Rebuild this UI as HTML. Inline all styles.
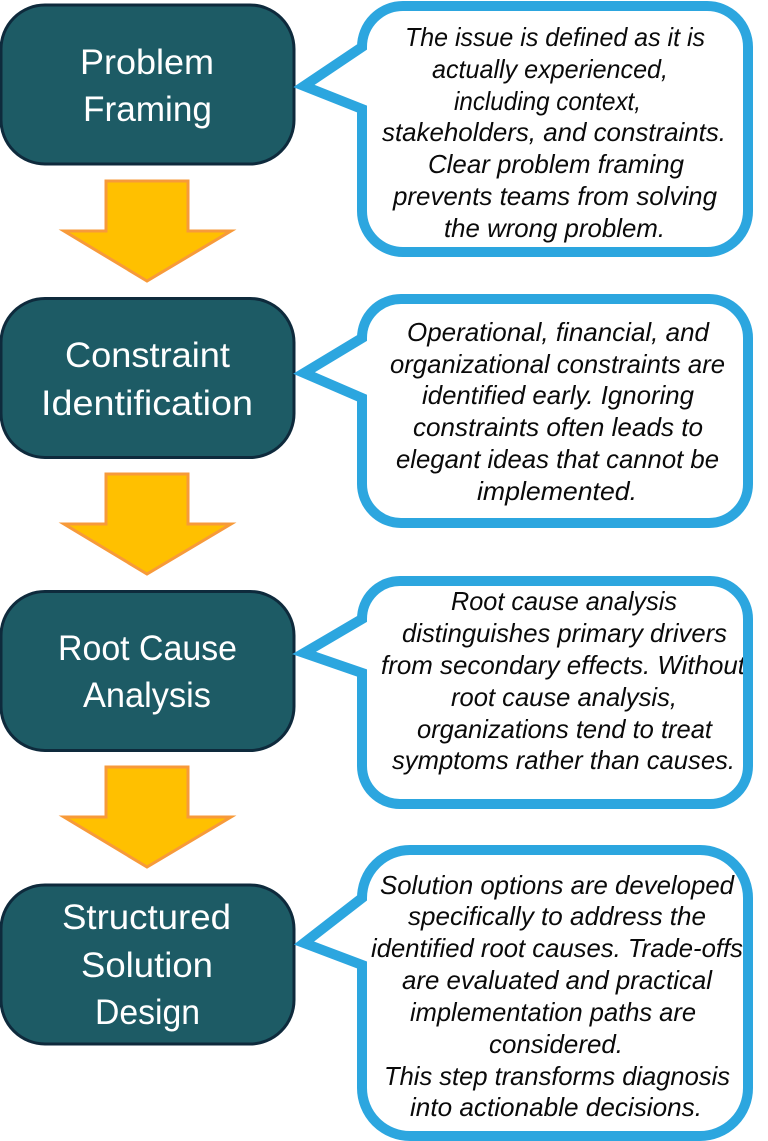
<!DOCTYPE html>
<html>
<head>
<meta charset="utf-8">
<style>
html,body{margin:0;padding:0;background:#fff}
svg{display:block}
.t{font-family:"Liberation Sans",sans-serif;font-size:35px;fill:#fff}
.c{font-family:"Liberation Sans",sans-serif;font-style:italic;font-size:26px;fill:#0a0a0a}
.b{fill:#1D5B65;stroke:#0E2A3C;stroke-width:3}
.a{fill:#FFC000;stroke:#F79A3A;stroke-width:3;stroke-linejoin:miter}
.p{fill:#fff;stroke:#2CA6DF;stroke-width:10;stroke-miterlimit:10}
.o{fill:none;stroke:#2CA6DF;stroke-width:10;stroke-miterlimit:10}
</style>
</head>
<body>
<svg width="768" height="1141" viewBox="0 0 768 1141" xmlns="http://www.w3.org/2000/svg">
<rect width="768" height="1141" fill="#fff"/>

<!-- arrows -->
<polygon class="a" points="106,181 188,181 188,231 231,231 147,281 64,231 106,231"/>
<polygon class="a" points="106,474 188,474 188,524 231,524 147,574 64,524 106,524"/>
<polygon class="a" points="106,767 188,767 188,817 231,817 147,867 64,817 106,817"/>

<!-- left boxes -->
<rect class="b" x="1" y="5" width="293" height="159" rx="44"/>
<rect class="b" x="1" y="298.500" width="293" height="159" rx="44"/>
<rect class="b" x="1" y="591.500" width="293" height="159" rx="44"/>
<rect class="b" x="1" y="885" width="293" height="159" rx="44"/>

<text class="t" x="80" y="74" textLength="134" lengthAdjust="spacingAndGlyphs">Problem</text>
<text class="t" x="83" y="121" textLength="129" lengthAdjust="spacingAndGlyphs">Framing</text>
<text class="t" x="65" y="367" textLength="165" lengthAdjust="spacingAndGlyphs">Constraint</text>
<text class="t" x="41" y="415" textLength="212" lengthAdjust="spacingAndGlyphs">Identification</text>
<text class="t" x="58" y="660" textLength="179" lengthAdjust="spacingAndGlyphs">Root Cause</text>
<text class="t" x="83" y="707" textLength="128" lengthAdjust="spacingAndGlyphs">Analysis</text>
<text class="t" x="62" y="929" textLength="169" lengthAdjust="spacingAndGlyphs">Structured</text>
<text class="t" x="81" y="977" textLength="132" lengthAdjust="spacingAndGlyphs">Solution</text>
<text class="t" x="95" y="1024" textLength="105" lengthAdjust="spacingAndGlyphs">Design</text>

<!-- callouts -->
<path class="p" d="M362,47 A41,41 0 0 1 403,6 L707,6 A41,41 0 0 1 748,47 L748,211 A41,41 0 0 1 707,252 L403,252 A41,41 0 0 1 362,211 L362,109 L304,86 Z"/>
<path class="p" d="M362,338 A39,39 0 0 1 401,299 L709,299 A39,39 0 0 1 748,338 L748,484 A39,39 0 0 1 709,523 L401,523 A39,39 0 0 1 362,484 L362,398 L304,373 Z"/>
<path class="p" d="M362,619 A38,38 0 0 1 400,581 L710,581 A38,38 0 0 1 748,619 L748,766 A38,38 0 0 1 710,804 L400,804 A38,38 0 0 1 362,766 L362,673 L304,653 Z"/>
<path class="p" d="M362,898 A48,48 0 0 1 410,850 L700,850 A48,48 0 0 1 748,898 L748,1088 A48,48 0 0 1 700,1136 L410,1136 A48,48 0 0 1 362,1088 L362,965 L304,943 Z"/>

<!-- callout text -->
<text class="c" x="405" y="46" textLength="300" lengthAdjust="spacingAndGlyphs">The issue is defined as it is</text>
<text class="c" x="432" y="78" textLength="236" lengthAdjust="spacingAndGlyphs">actually experienced,</text>
<text class="c" x="454" y="110" textLength="187" lengthAdjust="spacingAndGlyphs">including context,</text>
<text class="c" x="382" y="141" textLength="344" lengthAdjust="spacingAndGlyphs">stakeholders, and constraints.</text>
<text class="c" x="428" y="173" textLength="256" lengthAdjust="spacingAndGlyphs">Clear problem framing</text>
<text class="c" x="393" y="205" textLength="324" lengthAdjust="spacingAndGlyphs">prevents teams from solving</text>
<text class="c" x="444" y="237" textLength="221" lengthAdjust="spacingAndGlyphs">the wrong problem.</text>

<text class="c" x="407" y="341" textLength="302" lengthAdjust="spacingAndGlyphs">Operational, financial, and</text>
<text class="c" x="390" y="373" textLength="335" lengthAdjust="spacingAndGlyphs">organizational constraints are</text>
<text class="c" x="422" y="404" textLength="272" lengthAdjust="spacingAndGlyphs">identified early. Ignoring</text>
<text class="c" x="413" y="436" textLength="290" lengthAdjust="spacingAndGlyphs">constraints often leads to</text>
<text class="c" x="396" y="468" textLength="323" lengthAdjust="spacingAndGlyphs">elegant ideas that cannot be</text>
<text class="c" x="477" y="500" textLength="160" lengthAdjust="spacingAndGlyphs">implemented.</text>

<text class="c" x="451" y="610" textLength="226" lengthAdjust="spacingAndGlyphs">Root cause analysis</text>
<text class="c" x="402" y="642" textLength="325" lengthAdjust="spacingAndGlyphs">distinguishes primary drivers</text>
<text class="c" x="381" y="674" textLength="364" lengthAdjust="spacingAndGlyphs">from secondary effects. Without</text>
<text class="c" x="451" y="706" textLength="226" lengthAdjust="spacingAndGlyphs">root cause analysis,</text>
<text class="c" x="417" y="738" textLength="295" lengthAdjust="spacingAndGlyphs">organizations tend to treat</text>
<text class="c" x="392" y="769" textLength="343" lengthAdjust="spacingAndGlyphs">symptoms rather than causes.</text>
<!-- border redrawn above the text: "Without" runs under it in the reference -->
<path class="o" d="M748,619 L748,766"/>

<text class="c" x="380" y="894" textLength="354" lengthAdjust="spacingAndGlyphs">Solution options are developed</text>
<text class="c" x="408" y="925" textLength="298" lengthAdjust="spacingAndGlyphs">specifically to address the</text>
<text class="c" x="371" y="957" textLength="372" lengthAdjust="spacingAndGlyphs">identified root causes. Trade-offs</text>
<text class="c" x="402" y="989" textLength="310" lengthAdjust="spacingAndGlyphs">are evaluated and practical</text>
<text class="c" x="410" y="1021" textLength="286" lengthAdjust="spacingAndGlyphs">implementation paths are</text>
<text class="c" x="489" y="1053" textLength="134" lengthAdjust="spacingAndGlyphs">considered.</text>
<text class="c" x="384" y="1085" textLength="346" lengthAdjust="spacingAndGlyphs">This step transforms diagnosis</text>
<text class="c" x="410" y="1116" textLength="292" lengthAdjust="spacingAndGlyphs">into actionable decisions.</text>
</svg>
</body>
</html>
